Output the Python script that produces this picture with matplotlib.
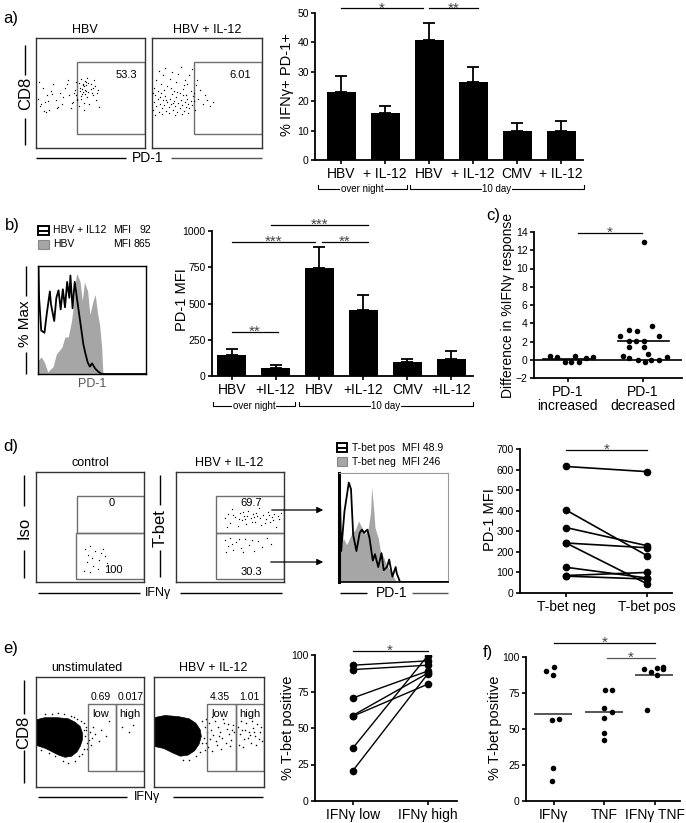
import matplotlib
matplotlib.use("Agg")
import matplotlib.pyplot as plt
from matplotlib.patches import Rectangle, Polygon

plt.rcParams['font.family'] = ['Liberation Sans', 'DejaVu Sans']

# ---- data -------------------------------------------------------------
# a) bar chart: % IFNg+ PD-1+
a_labels = ['HBV', '+ IL-12', 'HBV', '+ IL-12', 'CMV', '+ IL-12']
a_means = [23.0, 16.0, 40.8, 26.5, 10.0, 9.7]
a_tops = [28.5, 18.5, 46.7, 31.8, 12.7, 13.2]

# b) bar chart: PD-1 MFI
b_labels = ['HBV', '+IL-12', 'HBV', '+IL-12', 'CMV', '+IL-12']
b_means = [148, 57, 748, 457, 95, 115]
b_tops = [188, 73, 890, 560, 115, 170]

# c) difference in %IFNg response (x offset, value)
c_labels = ['PD-1\nincreased', 'PD-1\ndecreased']
c_increased = [(-0.24, 0.4), (-0.15, 0.3), (-0.04, -0.2), (0.04, -0.2), (0.10, 0.45),
               (0.15, -0.2), (0.24, 0.2), (0.34, 0.3)]
c_decreased = [(0.02, 12.9), (-0.19, 3.3), (-0.08, 3.1), (0.12, 3.65), (-0.30, 2.65),
               (-0.18, 2.05), (-0.09, 2.05), (0.01, 2.05), (0.22, 2.55), (-0.19, 1.45),
               (0.02, 1.45), (-0.27, 0.4), (0.07, 0.6), (-0.18, 0.2), (-0.07, 0.0),
               (0.03, -0.25), (0.11, 0.0), (0.21, 0.0), (0.32, 0.35)]
c_medians = [0.1, 2.05]

# d) paired PD-1 MFI
d_labels = ['T-bet neg', 'T-bet pos']
d_neg = [615, 403, 318, 243, 243, 125, 85, 82]
d_pos = [590, 182, 230, 220, 45, 73, 100, 68]

# e) paired % T-bet positive
e_labels = ['IFN\u03b3 low', 'IFN\u03b3 high']
e_low = [93, 90, 70.5, 58.5, 58, 36, 20.5]
e_high = [96, 93, 89, 87.5, 80, 99.5, 87]

# f) % T-bet positive per cytokine group (x offset, value)
f_labels = ['IFN\u03b3', 'TNF', 'IFN\u03b3 TNF']
f_ifng = [(-0.15, 90.3), (0.0, 93.1), (-0.01, 87.8), (-0.03, 56.1), (0.10, 56.8),
          (-0.01, 22.6), (-0.03, 14.1)]
f_tnf = [(0.02, 77.4), (0.15, 77.4), (0.0, 64.7), (0.15, 61.9), (0.0, 57.7),
         (0.0, 47.3), (-0.01, 42.3)]
f_both = [(-0.21, 91.9), (-0.08, 89.6), (0.05, 92.6), (0.17, 93.1), (0.17, 91.5),
          (0.05, 87.8), (-0.15, 63.0)]
f_medians = [60.7, 61.9, 87.8]

# histograms (x %, y % of max)
b_hist_grey = [(0, 13), (3, 16), (6, 11), (9, 2), (14, 7), (17, 19), (22, 25), (25, 35),
               (28, 35), (31, 50), (33, 66), (35, 90), (36, 95), (39, 87), (41, 69),
               (43, 87), (46, 78), (48, 56), (51, 69), (53, 75), (55, 58), (57, 47),
               (59, 25), (60, 2), (62, 0)]
b_hist_line = [(0.5, 100), (1, 72), (3, 41), (6, 39), (8, 56), (11, 78), (12, 66), (15, 50),
               (17, 72), (19, 79), (21, 61), (23, 80), (25, 63), (27, 87), (29, 72),
               (30, 93), (32, 62), (34, 87), (36, 72), (39, 50), (42, 28), (44, 19),
               (46, 11), (48, 7), (50, 10), (53, 5), (56, 2), (59, 0), (100, 0)]
d_hist_grey = [(1, 29), (4, 41), (7, 35), (12, 46), (15, 49), (18, 57), (21, 51), (24, 45),
               (27, 51), (29, 66), (30, 89), (32, 66), (33, 51), (36, 41), (38, 29),
               (41, 23), (44, 15), (47, 11), (50, 5), (53, 0)]
d_hist_line = [(0.5, 100), (2, 29), (5, 66), (9, 93), (11, 87), (13, 44), (16, 29),
               (19, 46), (21, 49), (23, 46), (26, 49), (28, 41), (31, 20), (33, 26),
               (36, 14), (39, 27), (41, 11), (44, 14), (46, 21), (49, 5), (52, 14),
               (53, 8), (56, 0), (100, 0)]

# flow dot plots (x %, y %)
a_dots_hbv = [(2, 45), (4, 38), (6, 55), (8, 42), (3, 60), (10, 48), (12, 35), (14, 52),
              (5, 40), (16, 58), (18, 44), (20, 37), (22, 50), (9, 33), (25, 46), (27, 55),
              (24, 40), (30, 48), (32, 36), (28, 58), (35, 50), (34, 42), (37, 60), (38, 45),
              (40, 55), (39, 38), (41, 63), (42, 49), (43, 57), (44, 41), (45, 61), (46, 52),
              (47, 46), (48, 59), (44, 35), (50, 54), (52, 48), (53, 62), (55, 44), (49, 40),
              (51, 50), (46, 57), (57, 53), (58, 37), (41, 47), (43, 58), (36, 53), (38, 44),
              (45, 49), (47, 64), (54, 56), (56, 50), (33, 41), (29, 62), (19, 36), (15, 49),
              (11, 43), (7, 34), (40, 52), (42, 54), (44, 56), (46, 60), (48, 51), (50, 58),
              (52, 55), (39, 59), (37, 48), (41, 45), (43, 51), (45, 53)]
a_dots_il12 = [(1, 35), (2, 42), (3, 48), (4, 38), (5, 45), (6, 33), (7, 40), (8, 50), (9, 36),
               (10, 44), (11, 39), (12, 47), (13, 34), (14, 42), (15, 37), (16, 45), (17, 40),
               (18, 49), (19, 35), (20, 43), (21, 38), (22, 46), (23, 33), (24, 41), (25, 36),
               (26, 44), (27, 39), (28, 48), (29, 34), (30, 42), (31, 37), (32, 45), (33, 40),
               (34, 36), (35, 43), (2, 55), (4, 62), (6, 70), (8, 58), (10, 66), (12, 73),
               (14, 56), (16, 63), (18, 69), (20, 52), (22, 60), (24, 67), (26, 74), (28, 54),
               (30, 62), (32, 58), (34, 66), (36, 72), (38, 50), (40, 57), (42, 45), (44, 53),
               (46, 40), (48, 48), (50, 44), (53, 38), (55, 42), (3, 30), (9, 31), (15, 32),
               (21, 30), (27, 31), (33, 32), (39, 35), (5, 52), (11, 53), (17, 55), (23, 51),
               (29, 57), (35, 52), (37, 47), (41, 62), (7, 46), (13, 44), (19, 41), (25, 50),
               (31, 48), (1, 50), (36, 39), (38, 43)]
d_dots_ctrl = [(45, 30), (48, 25), (50, 33), (52, 22), (55, 28), (47, 18), (58, 20), (60, 26),
               (53, 15), (62, 30), (57, 12), (44, 10), (64, 24), (50, 9), (66, 17)]
d_dots_top = [(45, 58), (48, 62), (50, 54), (52, 66), (55, 59), (57, 51), (59, 63), (61, 56),
              (63, 60), (65, 53), (67, 65), (69, 58), (71, 62), (73, 55), (75, 60), (77, 67),
              (79, 52), (81, 61), (83, 57), (85, 64), (87, 55), (89, 59), (91, 62), (93, 50),
              (95, 57), (97, 63), (47, 50), (53, 61), (58, 57), (62, 64), (66, 60), (70, 55),
              (74, 63), (78, 58), (82, 54), (86, 61), (90, 56), (94, 60), (64, 57), (72, 59)]
d_dots_bottom = [(45, 38), (48, 33), (50, 40), (53, 29), (56, 36), (60, 31), (64, 39), (68, 34),
                 (72, 28), (76, 37), (80, 32), (84, 40), (88, 35), (46, 27), (58, 39), (70, 38),
                 (62, 27), (52, 35)]
e_cloud_unstim = [(0, 61), (8, 63), (20, 63), (30, 62), (36, 59), (41, 55), (43, 49), (43, 43),
                  (41, 37), (38, 32), (33, 28), (27, 27), (21, 29), (15, 32), (9, 35), (3, 37),
                  (0, 38)]
e_dots_unstim = [(44, 58), (46, 52), (45, 46), (47, 40), (44, 35), (40, 28), (36, 24), (30, 22),
                 (25, 24), (46, 55), (48, 48), (49, 43), (47, 35), (43, 30), (38, 62), (42, 60),
                 (32, 65), (26, 66), (15, 66), (50, 50), (52, 45), (51, 38), (53, 55), (55, 48),
                 (58, 42), (60, 52), (65, 46), (68, 60), (80, 55), (86, 50), (90, 56), (5, 34),
                 (12, 31), (18, 28), (8, 66), (20, 67), (35, 64), (44, 52)]
e_cloud_il12 = [(0, 63), (10, 65), (22, 64), (32, 62), (38, 58), (42, 52), (43, 46), (41, 39),
                (37, 33), (31, 29), (24, 28), (17, 31), (9, 35), (0, 37)]
e_dots_il12 = [(44, 60), (46, 55), (48, 50), (45, 45), (47, 40), (50, 58), (52, 52), (54, 47),
               (56, 42), (58, 55), (60, 50), (62, 45), (64, 58), (66, 53), (68, 48), (70, 43),
               (72, 56), (49, 36), (53, 33), (57, 38), (61, 35), (65, 40), (69, 37), (73, 50),
               (55, 60), (63, 62), (51, 44), (59, 46), (67, 57), (71, 52), (46, 34), (44, 40),
               (42, 32), (38, 28), (32, 25), (26, 25), (47, 62), (53, 64),
               (76, 55), (78, 48), (80, 52), (82, 44), (84, 58), (86, 50), (88, 40), (90, 54),
               (92, 46), (94, 57), (96, 50), (98, 42), (77, 38), (81, 36), (85, 45), (89, 60),
               (93, 38), (97, 55), (79, 60), (83, 52), (87, 47), (91, 50), (95, 44)]

# ---- figure -----------------------------------------------------------
W, H = 686, 823
fig = plt.figure(figsize=(W / 100, H / 100), dpi=100)

GATE = '#6e6e6e'
GREY = '#a6a6a6'


def box(l, t, w, h):
    return fig.add_axes([l / W, 1 - (t + h) / H, w / W, h / H])


ov = fig.add_axes([0, 0, 1, 1], zorder=10)
ov.set_xlim(0, W)
ov.set_ylim(H, 0)
ov.axis('off')
ov.patch.set_alpha(0)


def txt(x, y, s, size=9, **kw):
    kw.setdefault('ha', 'center')
    kw.setdefault('va', 'center')
    ov.text(x, y, s, fontsize=size, **kw)


def seg(x0, y0, x1, y1, color='black', lw=1.0):
    ov.plot([x0, x1], [y0, y1], color=color, lw=lw, solid_capstyle='butt')


def style(ax, ylim, yticks, xlim, labels, xsize=10):
    ax.set_ylim(*ylim)
    ax.set_xlim(*xlim)
    ax.set_yticks(yticks)
    ax.set_xticks(range(len(labels)))
    ax.set_xticklabels(labels, fontsize=xsize)
    for s in ['top', 'right']:
        ax.spines[s].set_visible(False)
    for s in ['left', 'bottom']:
        ax.spines[s].set_linewidth(1.3)
    ax.tick_params(direction='out', length=3, width=1.2, pad=2)
    ax.tick_params(axis='y', labelsize=7.5, pad=1.5)
    ax.patch.set_alpha(0)


def sig(ax, x0, x1, y, stars, color='black'):
    ax.plot([x0, x1], [y, y], color=color, lw=0.9, clip_on=False)
    ax.annotate(stars, ((x0 + x1) / 2, y), xytext=(0, -3), textcoords='offset points',
                ha='center', va='baseline', fontsize=11, color='#444444',
                annotation_clip=False)


def bars(ax, means, tops):
    x = list(range(len(means)))
    ax.bar(x, means, width=0.66, color='black')
    up = [t - m for t, m in zip(tops, means)]
    ax.errorbar(x, means, yerr=[[0] * len(means), up], fmt='none', ecolor='black',
                elinewidth=1.3, capsize=4.5, capthick=1.3)


def flow(l, t, w, h, spine='#333333'):
    ax = box(l, t, w, h)
    ax.set_xlim(0, 100)
    ax.set_ylim(0, 100)
    ax.set_xticks([])
    ax.set_yticks([])
    for s in ax.spines.values():
        s.set_color(spine)
        s.set_linewidth(1.0)
    return ax


def gate(ax, x0, y0, x1, y1):
    ax.add_patch(Rectangle((x0, y0), x1 - x0, y1 - y0, fill=False, edgecolor=GATE, lw=1.0))


def dots(ax, pts, s=0.9):
    ax.scatter([p[0] for p in pts], [p[1] for p in pts], s=s, color='black', linewidths=0)


def bracket(x0, x1, y, label):
    ov.plot([x0, x0, x1, x1], [y - 4, y, y, y - 4], color='black', lw=0.8)
    txt((x0 + x1) / 2, y, label, size=7,
        bbox=dict(facecolor='white', edgecolor='none', pad=0.6))


# ---- panel a ----------------------------------------------------------
txt(3, 18, 'a)', size=12, ha='left')
fa1 = flow(36, 38, 109, 110)
gate(fa1, 37.6, 12.7, 100, 78)
dots(fa1, a_dots_hbv)
fa2 = flow(152, 38, 110, 110)
gate(fa2, 38, 12.7, 100, 78)
dots(fa2, a_dots_il12)
txt(85, 30, 'HBV')
txt(207, 30, 'HBV + IL-12')
txt(126, 75, '53.3', size=8)
txt(240, 75, '6.01', size=8)
txt(26, 93, 'CD8', size=12, rotation=90)
seg(25, 45, 25, 75)
seg(25, 118, 25, 145)
txt(148, 158, 'PD-1', size=10)
seg(36, 158, 126, 158)
seg(171, 158, 262, 158, color='#555555')
txt(287, 85, '% IFN\u03b3+ PD-1+', size=10.5, rotation=90)

axa = box(315, 13, 268, 147)
bars(axa, a_means, a_tops)
style(axa, (0, 50), [0, 10, 20, 30, 40, 50], (-0.6, 5.5), a_labels)
sig(axa, 0, 1.85, 51.6, '*')
sig(axa, 2.0, 3.1, 51.6, '**')
bracket(318, 407, 189, 'over night')
bracket(410, 584, 189, '10 day')

# ---- panel b ----------------------------------------------------------
txt(5, 225, 'b)', size=12, ha='left')
ov.add_patch(Rectangle((38, 226), 11, 9, facecolor='white', edgecolor='black', lw=1.4))
seg(38, 230.5, 49, 230.5, lw=1.4)
ov.add_patch(Rectangle((38, 240), 11, 9, facecolor=GREY, edgecolor='#888888', lw=0.8))
txt(53, 230, 'HBV + IL12', size=7.5, ha='left')
txt(53, 244, 'HBV', size=7.5, ha='left')
txt(113, 230, 'MFI', size=7.5, ha='left')
txt(113, 244, 'MFI', size=7.5, ha='left')
txt(151, 230, '92', size=7.5, ha='right')
txt(151, 244, '865', size=7.5, ha='right')

hb = box(38, 266, 108, 108)
hb.fill_between([p[0] for p in b_hist_grey], [p[1] for p in b_hist_grey],
                color=GREY, linewidth=0)
hb.plot([p[0] for p in b_hist_line], [p[1] for p in b_hist_line], color='black', lw=1.3)
hb.set_xlim(0, 100)
hb.set_ylim(0, 102)
hb.set_xticks([])
hb.set_yticks([])
for s in hb.spines.values():
    s.set_linewidth(1.0)
txt(25, 324, '% Max', size=11, rotation=90)
seg(26, 266, 26, 296)
seg(26, 352, 26, 374)
txt(92, 384, 'PD-1', size=9, color='#555555')

axb = box(212, 231, 261, 145)
bars(axb, b_means, b_tops)
style(axb, (0, 1000), [0, 250, 500, 750, 1000], (-0.45, 5.5), b_labels)
sig(axb, 0, 1.05, 303, '**')
sig(axb, 0, 1.9, 924, '***')
sig(axb, 2.05, 3.1, 924, '**')
sig(axb, 0.9, 3.1, 1041, '***')
txt(182, 300, 'PD-1 MFI', size=10.5, rotation=90)
bracket(213, 295, 406, 'over night')
bracket(299, 473, 406, '10 day')

# ---- panel c ----------------------------------------------------------
txt(486, 215, 'c)', size=12, ha='left')
axc = box(534, 232, 148, 146)
axc.axhline(0, color='black', lw=1.2)
for i, (pts, med) in enumerate(zip([c_increased, c_decreased], c_medians)):
    axc.scatter([i + p[0] for p in pts], [p[1] for p in pts], s=16, color='black',
                linewidths=0, zorder=3)
    axc.plot([i - 0.33, i + 0.35], [med, med], color='black', lw=1.2)
style(axc, (-2, 14), list(range(-2, 15, 2)), (-0.45, 1.52), c_labels)
axc.tick_params(axis='x', labelsize=10)
for lab in axc.get_xticklabels():
    lab.set_linespacing(1.05)
sig(axc, 0.13, 0.99, 13.9, '*')
txt(508, 305, 'Difference in %IFN\u03b3 response', size=10, rotation=90)

# ---- panel d ----------------------------------------------------------
txt(3, 446, 'd)', size=12, ha='left')
fd1 = flow(36, 472, 108, 110)
gate(fd1, 38, 44.5, 100, 78)
gate(fd1, 37, 2.7, 100, 44.5)
dots(fd1, d_dots_ctrl)
fd2 = flow(176, 472, 108, 110)
gate(fd2, 37, 44.5, 100, 78)
gate(fd2, 37, 2.7, 100, 44.5)
dots(fd2, d_dots_top)
dots(fd2, d_dots_bottom)
txt(90, 463, 'control')
txt(229, 463, 'HBV + IL-12')
txt(112, 503, '0', size=8)
txt(113, 570, '100', size=8)
txt(251, 503, '69.7', size=8)
txt(251, 572, '30.3', size=8)
txt(24, 528, 'Iso', size=12, rotation=90)
seg(24, 475, 24, 506)
seg(24, 550, 24, 578)
txt(160, 528, 'T-bet', size=12, rotation=90)
seg(160, 475, 160, 505)
seg(160, 550, 160, 577)
txt(158, 593, 'IFN\u03b3', size=9)
seg(38, 593, 140, 593)
seg(180, 593, 282, 593)
ov.annotate('', xy=(326, 510), xytext=(269, 510),
            arrowprops=dict(arrowstyle='-|>', color='black', lw=0.9, mutation_scale=9))
ov.annotate('', xy=(326, 562), xytext=(268, 562),
            arrowprops=dict(arrowstyle='-|>', color='black', lw=0.9, mutation_scale=9))

ov.add_patch(Rectangle((337, 443), 10, 9, facecolor='white', edgecolor='black', lw=1.4))
seg(337, 447.5, 347, 447.5, lw=1.4)
ov.add_patch(Rectangle((337, 457), 10, 9, facecolor=GREY, edgecolor='#888888', lw=0.8))
txt(352, 448, 'T-bet pos', size=7.5, ha='left')
txt(352, 462, 'T-bet neg', size=7.5, ha='left')
txt(402, 448, 'MFI 48.9', size=7.5, ha='left')
txt(402, 462, 'MFI 246', size=7.5, ha='left')

hd = box(339, 473, 109, 109)
hd.fill_between([0] + [p[0] for p in d_hist_grey], [0] + [p[1] for p in d_hist_grey],
                color=GREY, linewidth=0)
hd.plot([p[0] for p in d_hist_line], [p[1] for p in d_hist_line], color='black', lw=1.3)
hd.set_xlim(0, 100)
hd.set_ylim(0, 102)
hd.set_xticks([])
hd.set_yticks([])
for s in ['top', 'right']:
    hd.spines[s].set_color('#999999')
hd.spines['left'].set_linewidth(2.2)
hd.spines['bottom'].set_linewidth(1.2)
txt(392, 593, 'PD-1', size=10)
seg(340, 593, 367, 593)
seg(412, 593, 448, 593, color='#555555')

axd = box(520, 449, 152, 144)
for n, p in zip(d_neg, d_pos):
    axd.plot([0, 1], [n, p], color='black', lw=1.2, marker='o', markersize=4.5, zorder=3)
style(axd, (0, 700), list(range(0, 701, 100)), (-0.57, 1.31), d_labels)
sig(axd, 0, 1, 695, '*')
txt(490, 520, 'PD-1 MFI', size=10.5, rotation=90)

# ---- panel e ----------------------------------------------------------
txt(3, 648, 'e)', size=12, ha='left')
fe1 = flow(36, 677, 108, 110)
fe1.add_patch(Polygon(e_cloud_unstim, closed=True, facecolor='black', edgecolor='black',
                      lw=0.5, joinstyle='round'))
dots(fe1, e_dots_unstim, s=1.2)
gate(fe1, 48, 14.5, 74, 75.5)
gate(fe1, 74, 14.5, 100, 75.5)
fe2 = flow(154, 677, 110, 110)
fe2.add_patch(Polygon(e_cloud_il12, closed=True, facecolor='black', edgecolor='black',
                      lw=0.5, joinstyle='round'))
dots(fe2, e_dots_il12, s=1.2)
gate(fe2, 48, 14.5, 74.5, 75.5)
gate(fe2, 74.5, 14.5, 100, 75.5)
txt(87, 668, 'unstimulated')
txt(213, 668, 'HBV + IL-12')
txt(101, 697, '0.69', size=7.5)
txt(131, 697, '0.017', size=7.5)
txt(101, 714, 'low', size=8)
txt(130, 714, 'high', size=8)
txt(220, 697, '4.35', size=7.5)
txt(249, 697, '1.01', size=7.5)
txt(220, 714, 'low', size=8)
txt(250, 714, 'high', size=8)
txt(24, 732, 'CD8', size=12, rotation=90)
seg(24, 680, 24, 714)
seg(24, 750, 24, 783)
txt(147, 797, 'IFN\u03b3', size=9)
seg(38, 797, 127, 797)
seg(173, 797, 263, 797)

axe = box(315, 655, 142, 146)
for lo, hi in zip(e_low, e_high):
    axe.plot([0, 1], [lo, hi], color='black', lw=1.0, marker='o', markersize=4.5, zorder=3)
style(axe, (0, 100), [0, 25, 50, 75, 100], (-0.5, 1.39), e_labels)
sig(axe, 0, 1, 103, '*')
txt(288, 728, '% T-bet positive', size=10.5, rotation=90)

# ---- panel f ----------------------------------------------------------
txt(483, 653, 'f)', size=12, ha='left')
axf = box(526, 657, 154, 144)
for i, (pts, med) in enumerate(zip([f_ifng, f_tnf, f_both], f_medians)):
    axf.scatter([i + p[0] for p in pts], [p[1] for p in pts], s=16, color='black',
                linewidths=0, zorder=3)
    axf.plot([i - 0.37, i + 0.35], [med, med], color='#555555', lw=1.4)
style(axf, (0, 100), [0, 25, 50, 75, 100], (-0.55, 2.5), f_labels)
sig(axf, 0, 2, 109.7, '*')
sig(axf, 1.05, 2, 99.3, '*', color='#555555')
txt(495, 728, '% T-bet positive', size=10.5, rotation=90)

fig.savefig('out.png', dpi=100)
